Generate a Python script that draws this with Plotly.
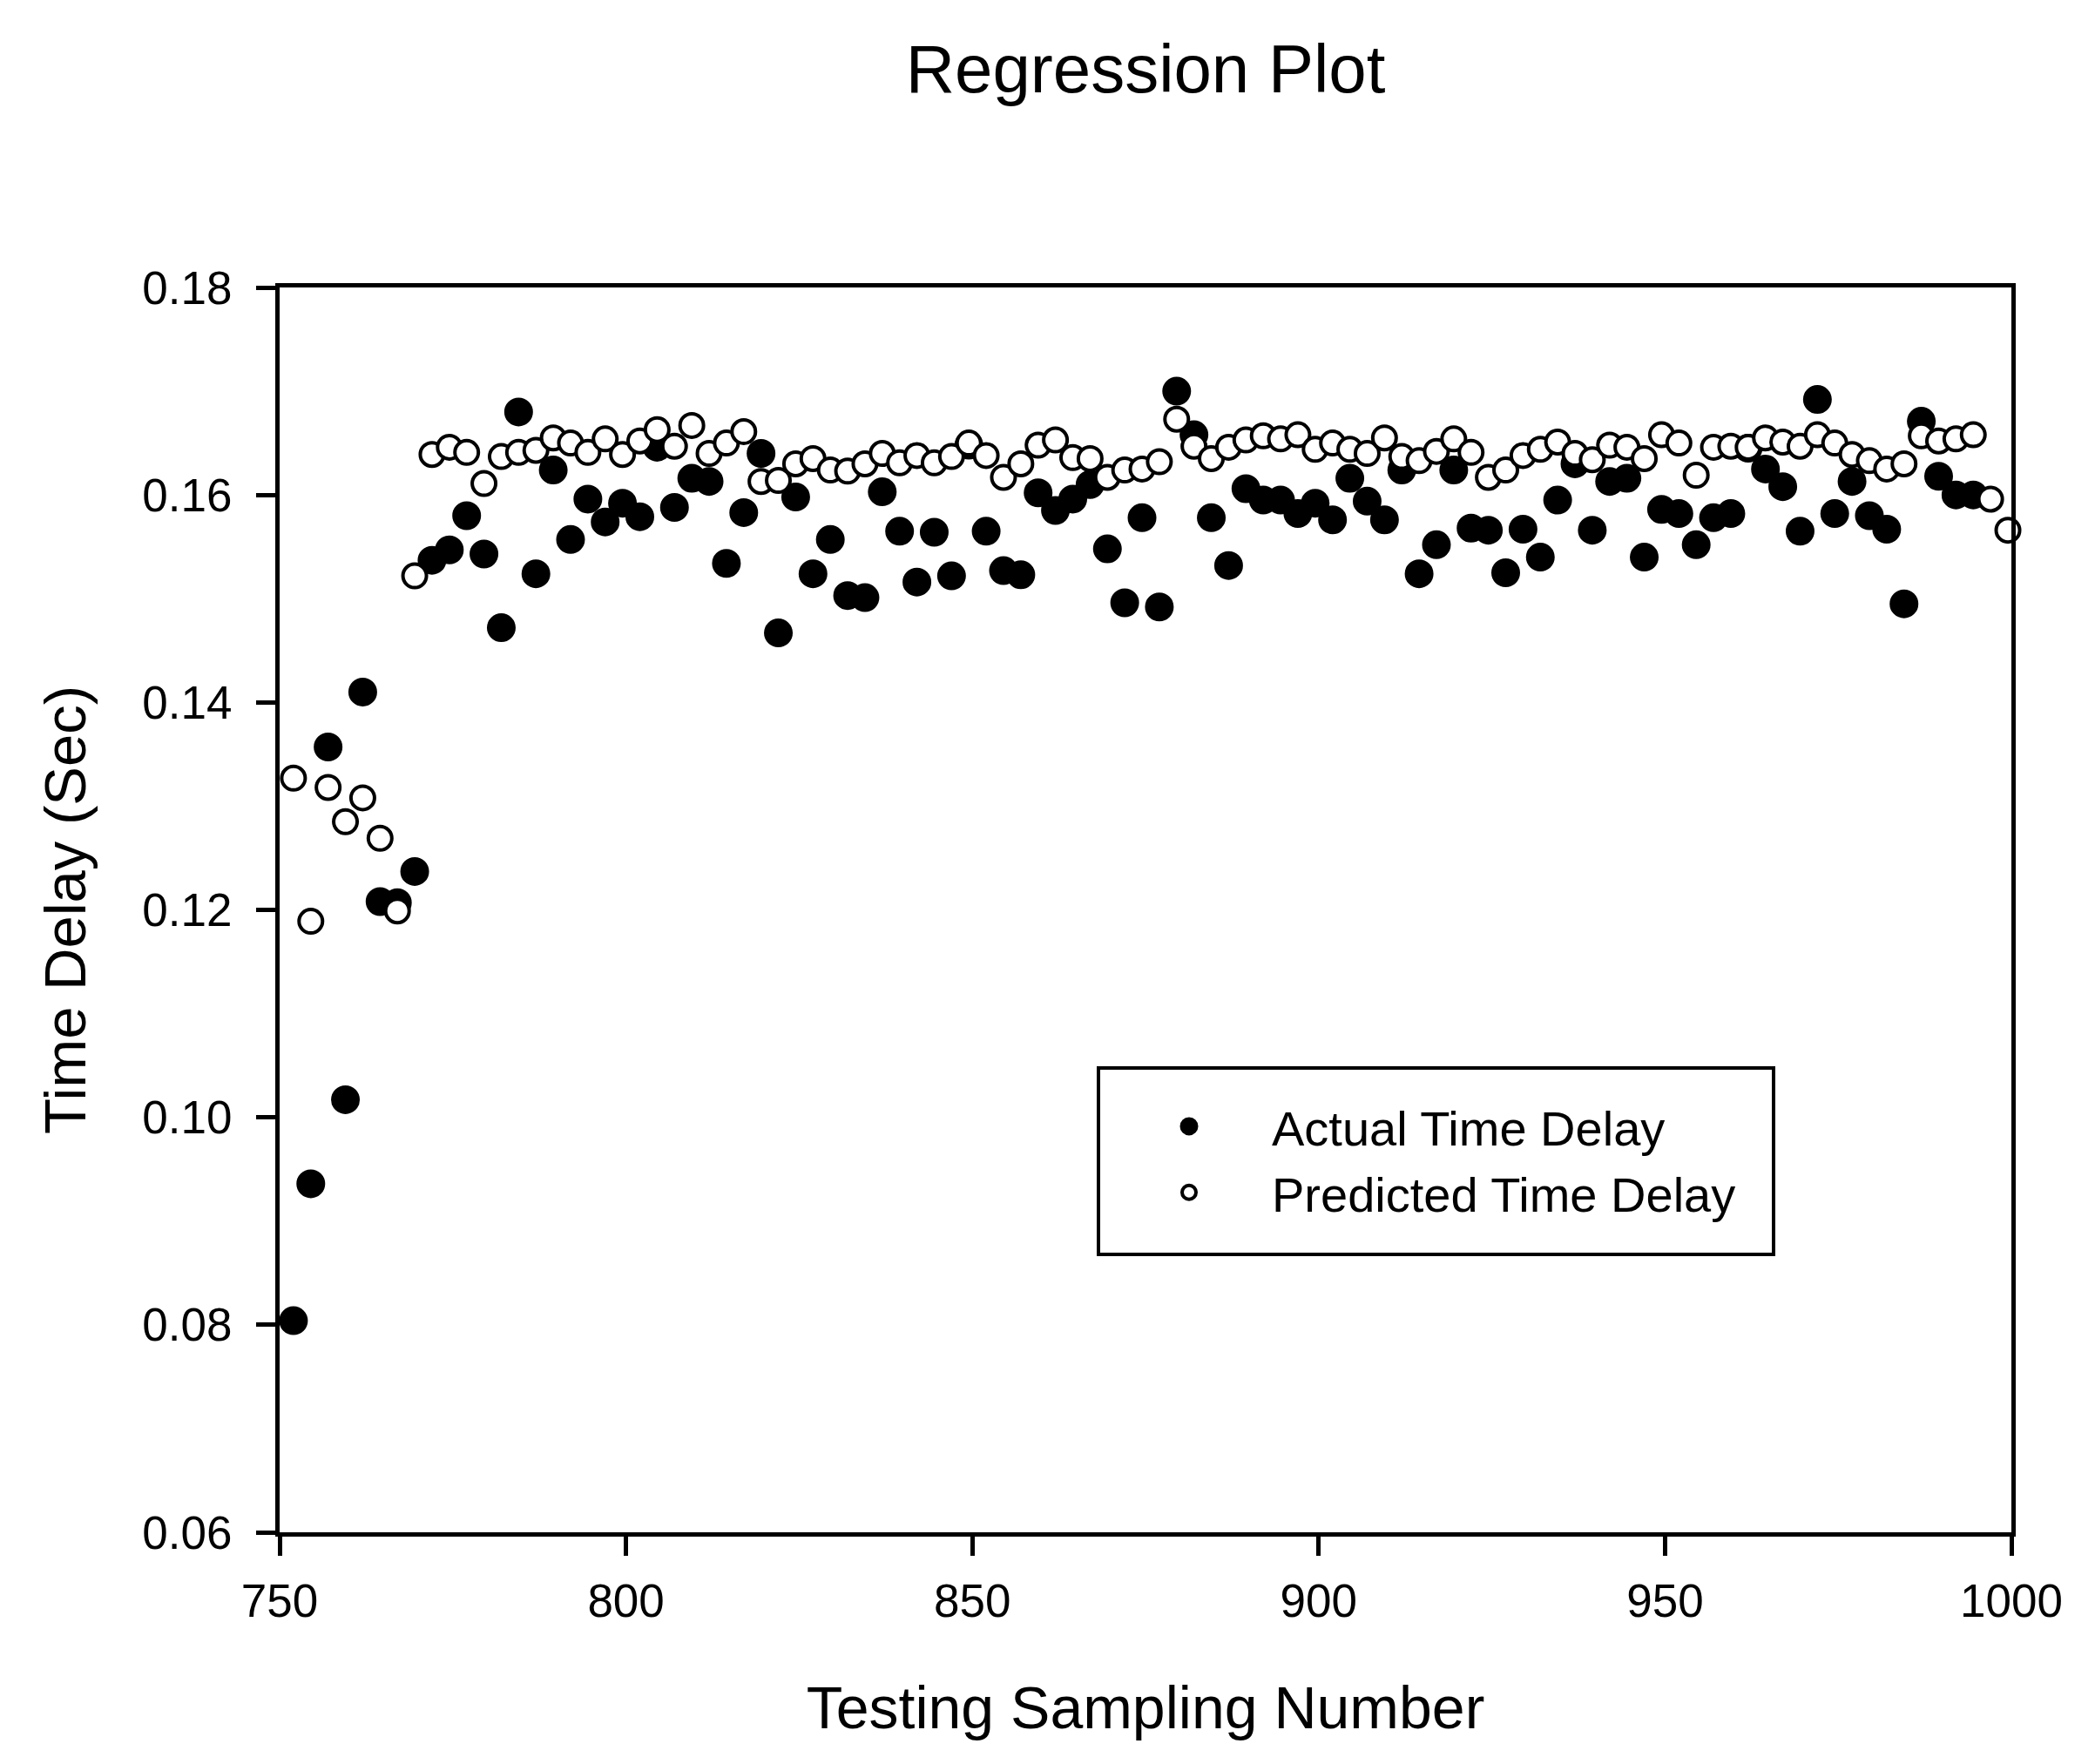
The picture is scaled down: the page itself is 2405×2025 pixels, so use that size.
import plotly.graph_objects as go

sample_number = [
    752, 754.5, 757, 759.5, 762, 764.5, 767, 769.5, 772, 774.5,
    777, 779.5, 782, 784.5, 787, 789.5, 792, 794.5, 797, 799.5,
    802, 804.5, 807, 809.5, 812, 814.5, 817, 819.5, 822, 824.5,
    827, 829.5, 832, 834.5, 837, 839.5, 842, 844.5, 847, 849.5,
    852, 854.5, 857, 859.5, 862, 864.5, 867, 869.5, 872, 874.5,
    877, 879.5, 882, 884.5, 887, 889.5, 892, 894.5, 897, 899.5,
    902, 904.5, 907, 909.5, 912, 914.5, 917, 919.5, 922, 924.5,
    927, 929.5, 932, 934.5, 937, 939.5, 942, 944.5, 947, 949.5,
    952, 954.5, 957, 959.5, 962, 964.5, 967, 969.5, 972, 974.5,
    977, 979.5, 982, 984.5, 987, 989.5, 992, 994.5, 997, 999.5,
]

actual_delay = [
    0.0804, 0.0936, 0.1357, 0.1017, 0.1410, 0.1208, 0.1207, 0.1237, 0.1537, 0.1547,
    0.1580, 0.1543, 0.1472, 0.1680, 0.1524, 0.1624, 0.1557, 0.1596, 0.1574, 0.1592,
    0.1579, 0.1646, 0.1588, 0.1616, 0.1613, 0.1534, 0.1583, 0.1640, 0.1467, 0.1598,
    0.1524, 0.1557, 0.1503, 0.1501, 0.1603, 0.1565, 0.1516, 0.1564, 0.1522, 0.1648,
    0.1565, 0.1527, 0.1523, 0.1602, 0.1585, 0.1596, 0.1610, 0.1548, 0.1496, 0.1578,
    0.1492, 0.1700, 0.1658, 0.1578, 0.1532, 0.1606, 0.1595, 0.1595, 0.1582, 0.1592,
    0.1576, 0.1616, 0.1594, 0.1576, 0.1624, 0.1524, 0.1552, 0.1624, 0.1568, 0.1566,
    0.1525, 0.1567, 0.1540, 0.1595, 0.1630, 0.1566, 0.1613, 0.1616, 0.1540, 0.1586,
    0.1582, 0.1552, 0.1578, 0.1582, 0.1645, 0.1625, 0.1608, 0.1565, 0.1692, 0.1582,
    0.1613, 0.1580, 0.1567, 0.1495, 0.1671, 0.1618, 0.1600, 0.1600, None, None,
]

predicted_delay = [
    0.1327, 0.1189, 0.1318, 0.1285, 0.1308, 0.1269, 0.1199, 0.1522, 0.1639, 0.1646,
    0.1641, 0.1611, 0.1637, 0.1641, 0.1643, 0.1655, 0.1650, 0.1641, 0.1654, 0.1639,
    0.1652, 0.1663, 0.1647, 0.1667, 0.1640, 0.1650, 0.1661, 0.1613, 0.1614, 0.1630,
    0.1635, 0.1624, 0.1623, 0.1630, 0.1640, 0.1631, 0.1638, 0.1631, 0.1637, 0.1650,
    0.1638, 0.1617, 0.1630, 0.1648, 0.1653, 0.1636, 0.1635, 0.1617, 0.1624, 0.1625,
    0.1632, 0.1673, 0.1647, 0.1635, 0.1646, 0.1653, 0.1657, 0.1654, 0.1658, 0.1644,
    0.1650, 0.1644, 0.1640, 0.1655, 0.1637, 0.1633, 0.1642, 0.1654, 0.1641, 0.1617,
    0.1624, 0.1638, 0.1644, 0.1651, 0.1640, 0.1634, 0.1648, 0.1646, 0.1635, 0.1658,
    0.1650, 0.1619, 0.1646, 0.1647, 0.1646, 0.1655, 0.1651, 0.1647, 0.1658, 0.1650,
    0.1639, 0.1633, 0.1625, 0.1630, 0.1657, 0.1652, 0.1654, 0.1658, 0.1596, 0.1566,
]

x_ticks = [750, 800, 850, 900, 950, 1000]
y_ticks = [0.06, 0.08, 0.10, 0.12, 0.14, 0.16, 0.18]

FONT = "Arial, 'Liberation Sans', sans-serif"

W, H = 2405, 2025
ML, MR, MT, MB = 313, 104, 322, 274
PW, PH = W - ML - MR, H - MT - MB


def px_x(v):
    return (v - ML) / PW


def px_y(v):
    return (H - MB - v) / PH


fig = go.Figure()
fig.add_trace(go.Scatter(
    x=sample_number, y=actual_delay, mode="markers", name="Actual Time Delay",
    cliponaxis=False,
    marker=dict(symbol="circle", size=28, color="black", line=dict(width=5, color="black")),
))
fig.add_trace(go.Scatter(
    x=sample_number, y=predicted_delay, mode="markers", name="Predicted Time Delay",
    cliponaxis=False,
    marker=dict(symbol="circle", size=27, color="white", line=dict(width=4, color="black")),
))

axis_common = dict(
    showline=True, linecolor="black", linewidth=5, mirror=True,
    ticks="outside", ticklen=22, tickwidth=5, tickcolor="black",
    showgrid=False, zeroline=False,
    tickfont=dict(family=FONT, size=53, color="black"),
)

fig.update_layout(
    width=W, height=H,
    paper_bgcolor="white", plot_bgcolor="white",
    margin=dict(l=ML, r=MR, t=MT, b=MB, autoexpand=False),
    font=dict(family=FONT, color="black"),
    title=dict(text="Regression Plot", x=0.5, xref="paper", xanchor="center",
               y=1 - 71 / H, yref="container", yanchor="middle",
               font=dict(family=FONT, size=78, color="black")),
    xaxis=dict(range=[750, 1000], tickvals=x_ticks, ticktext=[str(v) for v in x_ticks],
               title=dict(text="Testing Sampling Number", standoff=72,
                          font=dict(family=FONT, size=68, color="black")),
               ticklabelstandoff=6,
               **axis_common),
    yaxis=dict(range=[0.06, 0.18], tickvals=y_ticks, ticktext=[f"{v:.2f}" for v in y_ticks],
               title=dict(text="Time Delay (Sec)", standoff=44,
                          font=dict(family=FONT, size=67, color="black")),
               ticklabelstandoff=17,
               **axis_common),
    legend=dict(x=px_x(1262), y=px_y(1242), xanchor="left", yanchor="top",
                bgcolor="rgba(0,0,0,0)", borderwidth=0, itemwidth=180,
                font=dict(family=FONT, size=56, color="black")),
    shapes=[dict(type="rect", xref="paper", yref="paper",
                 x0=px_x(1253), x1=px_x(2028),
                 y0=px_y(1432), y1=px_y(1218),
                 line=dict(color="black", width=4), fillcolor="rgba(0,0,0,0)", layer="above")],
)

fig.write_html("out.html")
